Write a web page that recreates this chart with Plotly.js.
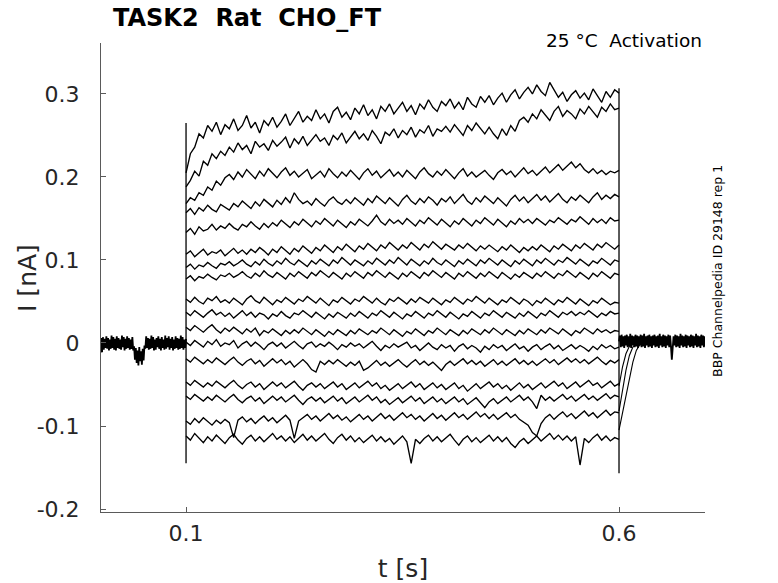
<!DOCTYPE html>
<html>
<head>
<meta charset="utf-8">
<script src="https://cdn.plot.ly/plotly-3.0.1.min.js"></script>
<style>
  html, body { margin: 0; padding: 0; background: #ffffff; }
  #plot { width: 778px; height: 583px; }
</style>
</head>
<body>
<div id="plot"></div>
<script>
// current values in pA
// step times of the voltage protocol [s]
var step_times = [0.1, 0.6]
var pulse_dt = 0.005   // sampling of the pulse traces
var band_dt = 0.001    // sampling of the baseline before/after the pulse
var tail_dt = 0.004    // sampling of the tail currents

// capacitive transients at onset and offset (max, min)
var onset_transient = [265, -145]
var offset_transient = [307, -157]

var trace01 = [205,228,236,252,247,262,255,266,251,263, 258,270,256,262,274,259,266,253,268,262,
  272,260,267,276,262,270,279,266,273,268, 281,270,276,265,279,284,272,278,269,283,
  276,287,274,281,270,285,279,288,276,283, 290,279,286,275,288,282,293,284,279,291,
  286,294,283,290,281,296,288,284,297,290, 298,287,295,301,290,299,305,294,302,308,
  300,311,303,298,314,305,296,302,291,299, 304,295,301,293,306,298,290,303,296,305, 301]
var trace02 = [188,196,207,201,219,214,228,222,231,226, 236,230,241,233,238,228,243,236,240,232,
  244,237,242,248,235,246,240,249,238,244, 251,243,247,238,250,245,253,241,248,255,
  246,252,244,256,249,240,254,250,258,247, 256,251,260,248,257,253,262,249,258,255,
  261,254,263,257,250,262,256,265,258,252, 260,252,246,258,250,262,255,268,272,266,
  276,270,281,274,268,279,285,273,280,276, 270,282,276,285,278,272,284,279,288,281, 283]
var trace03 = [168,175,172,181,178,188,184,195,190,199, 203,197,206,200,209,203,198,207,201,210,
  204,199,206,211,202,207,200,205,209,198, 203,207,200,210,204,199,206,201,208,203,
  197,205,210,202,207,199,204,209,201,206, 200,208,203,198,206,211,204,200,207,202,
  209,203,198,205,210,201,206,200,204,208, 202,197,205,209,203,207,200,206,211,204,
  208,202,207,212,205,210,215,208,213,218, 211,216,209,205,210,204,208,203,207,205, 208]
var trace04 = [157,162,155,163,159,166,161,158,167,163, 160,168,164,171,166,162,170,165,173,168,
  164,172,167,175,169,181,173,168,171,166, 174,169,165,172,176,170,167,173,168,175,
  171,166,174,169,177,172,168,175,170,165, 173,178,171,167,174,169,176,172,166,174,
  170,176,168,173,179,171,167,175,170,177, 172,168,175,170,165,173,178,171,176,169,
  174,179,172,177,170,175,180,173,169,176, 172,178,174,169,176,181,173,178,174,179, 176]
var trace05 = [133,138,131,140,135,137,143,136,141,138, 144,139,136,143,140,146,141,137,144,139,
  145,141,148,143,139,146,142,149,144,140, 147,143,150,145,141,148,144,139,146,142,
  149,145,141,147,154,146,142,149,144,148, 143,150,146,141,148,144,151,146,142,149,
  145,140,147,143,150,145,141,148,144,151, 146,142,149,144,140,147,143,150,145,149,
  144,150,146,142,148,145,151,147,143,149, 146,152,147,143,150,145,149,144,151,147, 148]
var trace06 = [107,111,104,109,113,106,110,108,112,105, 110,114,108,112,107,113,109,115,111,106,
  113,109,116,111,107,114,110,117,112,108, 115,111,118,113,109,116,112,119,114,110,
  117,113,120,115,111,118,114,121,116,112, 118,114,121,116,112,119,115,122,117,113,
  119,115,112,118,114,120,116,111,117,113, 118,114,110,116,112,118,114,109,115,111,
  116,112,118,114,110,117,113,119,115,111, 118,114,120,116,112,119,115,121,117,113, 118]
var trace07 = [91,95,89,94,92,97,93,90,96,94, 98,93,96,100,95,92,98,94,101,96,
  93,99,95,102,97,94,100,96,92,99, 95,101,97,93,100,96,103,98,94,100,
  97,93,99,95,102,98,94,100,96,103, 98,94,101,97,93,99,95,102,97,94,
  100,96,92,99,95,101,97,93,100,96, 102,98,94,100,96,92,99,95,101,97,
  93,100,96,102,98,94,100,97,103,99, 95,101,97,93,99,96,102,98,94,100, 98]
var trace08 = [77,81,75,80,78,83,79,76,82,80, 84,79,82,86,81,78,84,80,87,82,
  79,85,81,77,84,80,86,82,78,85, 81,87,83,79,85,81,77,84,80,86,
  82,78,85,81,87,83,79,85,81,77, 84,80,86,82,78,85,81,87,83,79,
  85,81,77,84,80,86,82,78,84,80, 86,82,78,85,81,77,83,79,85,81,
  78,84,80,86,82,78,84,81,87,83, 79,85,81,77,84,80,86,82,78,84, 82]
var trace09 = [53,49,55,50,47,54,51,56,49,52, 48,54,50,46,53,57,51,48,55,50,
  46,52,49,55,51,47,53,50,56,52, 48,54,50,45,52,49,55,51,47,53,
  50,56,52,48,54,49,46,53,50,55, 51,47,53,49,55,52,48,54,50,46,
  52,49,55,51,47,53,50,56,52,48, 54,50,46,52,49,55,51,47,53,50,
  45,51,48,54,50,46,52,49,55,51, 47,53,49,45,51,48,54,50,46,49, 48]
var trace10 = [37,33,39,35,31,36,40,34,37,32, 36,30,35,39,33,37,31,36,34,29,
  35,32,38,33,30,36,34,39,35,31, 37,33,29,35,31,37,34,30,36,32,
  38,34,30,36,33,39,35,31,37,33, 29,35,32,38,34,30,36,33,39,35,
  31,37,33,29,35,32,38,34,30,36, 33,39,35,31,37,34,30,36,32,38,
  34,30,36,33,39,35,31,37,34,38, 33,37,34,39,35,31,36,33,38,35, 36]
var trace11 = [19,15,21,17,13,18,22,16,12,18, 14,19,15,11,17,13,18,9,15,12,
  17,13,9,15,11,16,12,18,14,10, 16,12,8,14,10,16,13,9,15,11,
  17,13,10,15,12,18,14,10,16,12, 8,14,11,17,13,9,15,12,18,14,
  10,16,13,9,15,11,17,14,10,16, 12,18,14,10,16,13,9,15,11,17,
  13,10,16,12,18,14,11,17,13,9, 15,12,18,14,11,17,13,16,12,15, 14]
var trace12 = [1,-3,3,-1,-5,2,-2,4,-4,0, -2,3,-6,-1,2,-4,1,-3,-8,-2,
  1,-4,0,-6,-2,2,-3,-7,-1,1, -5,-1,-4,1,-3,-8,-2,-5,0,-4,
  -1,-6,-2,2,-4,-9,-3,-6,-1,-5, -2,1,-6,-3,-9,-4,0,-5,-8,-2,
  -6,-3,-10,-4,-1,-7,-3,-6,-11,-4, -8,-2,-6,-3,-9,-5,-1,-7,-4,-10,
  -5,-2,-8,-4,-1,-7,-3,-9,-5,-2, -7,-3,-6,-10,-4,-8,-2,-6,-3,-7, -5]
var trace13 = [-19,-23,-17,-21,-25,-20,-24,-18,-22,-26, -21,-17,-23,-27,-22,-19,-25,-21,-28,-23,
  -19,-24,-20,-26,-22,-29,-24,-20,-25,-32, -35,-22,-26,-21,-25,-20,-24,-28,-23,-27,
  -22,-33,-30,-25,-21,-27,-23,-28,-24,-20, -25,-29,-24,-20,-26,-22,-27,-23,-28,-33,
  -26,-22,-27,-23,-19,-25,-21,-26,-22,-28, -24,-20,-26,-22,-27,-23,-19,-25,-21,-26,
  -22,-27,-23,-19,-24,-20,-26,-22,-18,-23, -19,-24,-20,-25,-21,-17,-22,-26,-21,-24, -20]
var trace14 = [-47,-51,-45,-49,-53,-48,-52,-46,-50,-54, -49,-45,-51,-55,-50,-47,-53,-49,-56,-51,
  -47,-52,-48,-54,-50,-46,-52,-57,-51,-48, -53,-49,-55,-51,-47,-53,-49,-56,-52,-48,
  -54,-50,-46,-52,-48,-55,-51,-57,-53,-49, -55,-51,-47,-53,-49,-56,-52,-48,-54,-50,
  -56,-52,-48,-55,-51,-58,-53,-49,-55,-51, -47,-53,-49,-55,-51,-57,-52,-48,-54,-50,
  -56,-52,-48,-54,-50,-46,-52,-48,-55,-51, -47,-53,-49,-45,-51,-48,-54,-50,-46,-52, -49]
var trace15 = [-64,-68,-62,-66,-70,-65,-69,-63,-67,-71, -66,-62,-68,-72,-67,-64,-70,-66,-73,-68,
  -64,-69,-65,-71,-67,-63,-69,-74,-68,-65, -70,-66,-72,-68,-64,-70,-66,-73,-69,-65,
  -71,-67,-63,-69,-65,-72,-68,-74,-70,-66, -72,-68,-64,-70,-66,-73,-69,-65,-71,-67,
  -73,-69,-65,-71,-67,-74,-70,-66,-72,-78, -71,-67,-73,-69,-65,-71,-67,-63,-69,-65,
  -71,-79,-63,-69,-65,-70,-66,-62,-68,-64, -70,-66,-62,-68,-64,-69,-65,-61,-67,-63, -65]
var trace16 = [-94,-98,-91,-96,-90,-95,-99,-93,-97,-92, -96,-114,-93,-89,-95,-91,-97,-92,-88,-94,
  -90,-96,-91,-87,-93,-115,-94,-90,-86,-92, -88,-94,-90,-85,-91,-87,-93,-89,-95,-90,
  -86,-92,-88,-94,-89,-85,-91,-87,-93,-88, -84,-90,-86,-92,-88,-94,-89,-85,-91,-87,
  -93,-88,-84,-90,-86,-92,-87,-83,-89,-85, -91,-86,-92,-88,-84,-90,-86,-92,-95,-99,
  -108,-112,-97,-90,-86,-92,-87,-83,-89,-85, -91,-86,-82,-88,-84,-90,-85,-81,-87,-83, -84]
var trace17 = [-112,-117,-109,-115,-120,-113,-118,-111,-116,-121, -114,-110,-117,-122,-115,-111,-118,-113,-119,-114,
  -109,-116,-112,-118,-113,-120,-115,-110,-117,-112, -118,-113,-109,-116,-121,-114,-110,-117,-112,-119,
  -114,-120,-115,-111,-118,-113,-119,-115,-122,-117, -112,-119,-145,-116,-121,-115,-111,-118,-113,-119,
  -114,-110,-117,-123,-116,-112,-119,-114,-120,-115, -111,-118,-113,-119,-114,-121,-126,-119,-115,-121,
  -116,-112,-118,-113,-109,-116,-111,-117,-112,-118, -113,-147,-115,-120,-114,-110,-117,-112,-118,-114, -116]

// baseline band before the pulse (t = 0 .. 0.1) and after it (t = 0.6 .. 0.7)
var pre_band = [3,-12,6,-11,7,-8,5,-6,8,-7, 6,-9,4,-7,9,-6,7,-8,5,-9,
  8,-6,6,-7,4,-8,9,-5,7,-9, 5,-7,8,-6,6,-8,4,-7,7,-9,
  -4,-20,-6,-24,-9,-27,-5,-22,-10,-26, -7,-21,-3,-7,8,-6,6,-8,5,-7,
  9,-6,7,-9,4,-8,6,-5,8,-7, 5,-9,7,-6,4,-8,9,-7,6,-5,
  8,-8,5,-6,7,-9,4,-7,8,-6, 6,-8,5,-7,9,-6,7,-8,4,-6, 5]
var post_band = [2,9,-5,10,-4,8,-6,9,-3,10, -5,8,-4,11,-6,9,-3,8,-5,10,
  -4,9,-6,8,-3,10,-5,9,-4,11, -6,8,-3,9,-5,10,-4,8,-6,9,
  -3,10,-5,8,-4,9,-6,11,-3,8, -5,10,-4,9,-6,8,-3,10,-5,9,
  -4,-20,-6,8,-3,10,-5,9,-4,8, -6,11,-3,9,-5,8,-4,10,-6,9,
  -3,8,-5,10,-4,9,-6,8,-3,11, -5,9,-4,8,-6,10,-3,9,-5,8, -4]

// tail currents after the step back
var tail_a = [-105, -84, -62, -41, -23, -9, -2]
var tail_b = [-82, -56, -33, -15, -5, 0]
var tail_c = [-52, -29, -13, -4, 1]

var x_tickvals = [0.1, 0.6]
var x_ticktext = ['0.1', '0.6']
var y_tickvals = [-0.2, -0.1, 0, 0.1, 0.2, 0.3]
var y_ticktext = ['-0.2', '-0.1', '0', '0.1', '0.2', '0.3']

var pulse_traces = [trace01, trace02, trace03, trace04, trace05, trace06, trace07, trace08, trace09,
  trace10, trace11, trace12, trace13, trace14, trace15, trace16, trace17]

function toNA(arr) {
   return arr.map(function(v) { return v / 1000 })
}

function lineTrace(extra, width) {
   var tr = {
      mode: 'lines',
      line: {color: '#000000', width: width || 1.35},
      hoverinfo: 'skip',
      showlegend: false
   }
   for (var k in extra) tr[k] = extra[k]
   return tr
}

var traces = []
traces.push(lineTrace({x0: 0, dx: band_dt, y: toNA(pre_band)}, 1.8))
traces.push(lineTrace({x0: step_times[1], dx: band_dt, y: toNA(post_band)}, 1.8))
pulse_traces.forEach(function(tr) {
   traces.push(lineTrace({x0: step_times[0], dx: pulse_dt, y: toNA(tr)}))
})
;[tail_a, tail_b, tail_c].forEach(function(tr) {
   traces.push(lineTrace({x0: step_times[1], dx: tail_dt, y: toNA(tr)}, 1.1))
})
traces.push(lineTrace({x: [step_times[0], step_times[0]], y: toNA(onset_transient)}, 1.3))
traces.push(lineTrace({x: [step_times[1], step_times[1]], y: toNA(offset_transient)}, 1.3))

var font_family = 'DejaVu Sans, Liberation Sans, sans-serif'
var text_color = '#262626'
var axis_color = '#5a5a5a'

var xaxis_layout = {
   range: [0.0018, 0.6993],
   tickvals: x_tickvals,
   ticktext: x_ticktext,
   ticks: 'inside',
   ticklen: 5,
   tickwidth: 1,
   tickcolor: axis_color,
   ticklabelstandoff: 2,
   showline: true,
   linecolor: axis_color,
   linewidth: 1,
   showgrid: false,
   zeroline: false,
   tickfont: {family: font_family, size: 22, color: text_color},
   title: {
      text: 't [s]',
      font: {family: font_family, size: 25, color: text_color},
      standoff: 16
   }
}
var yaxis_layout = {
   range: [-0.2036, 0.3614],
   tickvals: y_tickvals,
   ticktext: y_ticktext,
   ticks: 'inside',
   ticklen: 5,
   tickwidth: 1,
   tickcolor: axis_color,
   ticklabelstandoff: 16,
   showline: true,
   linecolor: axis_color,
   linewidth: 1,
   showgrid: false,
   zeroline: false,
   tickfont: {family: font_family, size: 22, color: text_color}
}

Plotly.newPlot('plot', traces, {
   width: 778,
   height: 583,
   margin: {l: 101, r: 73, t: 43, b: 71},
   paper_bgcolor: '#ffffff',
   plot_bgcolor: '#ffffff',
   showlegend: false,
   title: {
      text: 'TASK2\u00a0 Rat\u00a0 CHO_FT',
      font: {family: font_family, size: 24, color: '#000000', weight: 'bold'},
      x: 113 / 778,
      xref: 'container',
      xanchor: 'left',
      y: 1 - 18 / 583,
      yref: 'container',
      yanchor: 'middle'
   },
   xaxis: xaxis_layout,
   yaxis: yaxis_layout,
   annotations: [
      {
         // y axis title
         text: 'I [nA]',
         xref: 'paper', yref: 'paper',
         x: -0.1209, y: 0.499,
         xanchor: 'center', yanchor: 'middle',
         textangle: -90,
         showarrow: false,
         font: {family: font_family, size: 25, color: text_color}
      },
      {
         text: '25 \u00b0C\u00a0 Activation',
         xref: 'paper', yref: 'paper',
         x: 0.9985, y: 1.0043,
         xanchor: 'right', yanchor: 'middle',
         showarrow: false,
         font: {family: font_family, size: 18.5, color: '#000000'}
      },
      {
         text: 'BBP Channelpedia ID 29148 rep 1',
         xref: 'paper', yref: 'paper',
         x: 1.0215, y: 0.514,
         xanchor: 'center', yanchor: 'middle',
         textangle: -90,
         showarrow: false,
         font: {family: font_family, size: 12.5, color: '#000000'}
      }
   ]
}, {displayModeBar: false, staticPlot: true})
</script>
</body>
</html>
